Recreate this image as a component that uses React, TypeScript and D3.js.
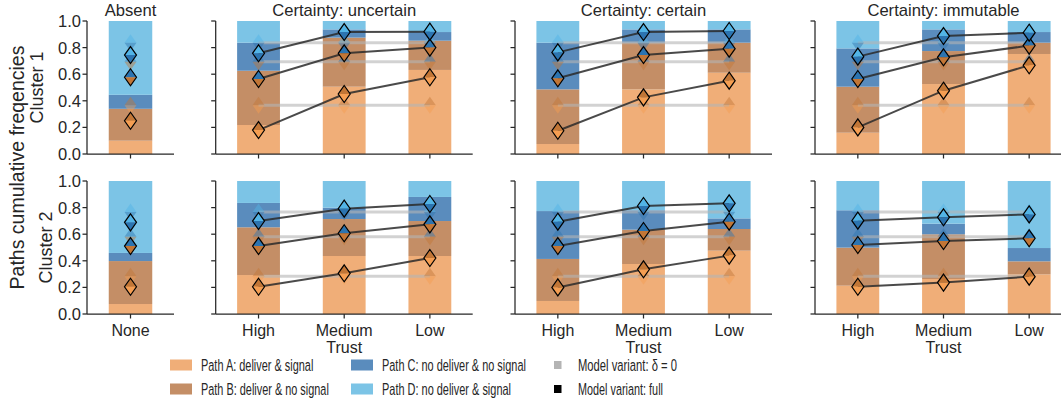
import React from 'react';
import * as d3 from 'd3';

// ---------- data ----------
const panelTitles = ['Absent', 'Certainty: uncertain', 'Certainty: certain', 'Certainty: immutable'];
const absentCats = ['None'];
const trustLevels = ['High', 'Medium', 'Low'];
const clusterLabels = ['Cluster 1', 'Cluster 2'];
const yTicks = [0, 0.2, 0.4, 0.6, 0.8, 1.0];
const pathLabels = [
  'Path A: deliver & signal',
  'Path B: deliver & no signal',
  'Path C: no deliver & no signal',
  'Path D: no deliver & signal',
];
const variantLabels = ['Model variant: δ = 0', 'Model variant: full'];

// cumulative bar tops (Path A top, Path B top, Path C top) per panel, cluster 1
const c1BarA = [[0.10], [0.218, 0.506, 0.632], [0.075, 0.486, 0.611], [0.16, 0.526, 0.752]];
const c1BarB = [[0.34], [0.626, 0.875, 0.852], [0.486, 0.837, 0.837], [0.506, 0.774, 0.837]];
const c1BarC = [[0.445], [0.837, 0.937, 0.917], [0.837, 0.937, 0.937], [0.794, 0.937, 0.917]];
// cluster 2
const c2BarA = [[0.075], [0.293, 0.436, 0.436], [0.098, 0.376, 0.476], [0.213, 0.263, 0.298]];
const c2BarB = [[0.398], [0.652, 0.714, 0.699], [0.414, 0.634, 0.639], [0.499, 0.599, 0.396]];
const c2BarC = [[0.459], [0.835, 0.799, 0.88], [0.774, 0.78, 0.719], [0.78, 0.679, 0.496]];

// full model cumulative predictions (A|B, B|C, C|D boundaries)
const c1FullAB = [[0.25], [0.18, 0.451, 0.577], [0.175, 0.426, 0.551], [0.2, 0.476, 0.667]];
const c1FullBC = [[0.577], [0.564, 0.757, 0.8], [0.569, 0.744, 0.792], [0.564, 0.727, 0.815]];
const c1FullCD = [[0.744], [0.757, 0.917, 0.92], [0.764, 0.917, 0.925], [0.732, 0.887, 0.912]];
const c2FullAB = [[0.205], [0.205, 0.306, 0.421], [0.2, 0.336, 0.439], [0.205, 0.236, 0.281]];
const c2FullBC = [[0.511], [0.511, 0.607, 0.674], [0.511, 0.624, 0.694], [0.519, 0.549, 0.569]];
const c2FullCD = [[0.689], [0.699, 0.792, 0.827], [0.694, 0.812, 0.832], [0.702, 0.727, 0.749]];

// delta = 0 model variant (constant across trust levels)
const c1Delta0 = [0.367, 0.693, 0.837];
const c2Delta0 = [0.284, 0.58, 0.766];

// ---------- styling ----------
const barColors = ['#f0ae78', '#c48e66', '#5a8cbd', '#7cc4e6'];
const markColors = ['#f59e52', '#c27636', '#2c74b0', '#52b4e6'];
const FONT = '"Liberation Sans", Arial, Helvetica, sans-serif';
const AX = '#262626';

const rows = [
  { top: 21, bottom: 154 },
  { top: 181, bottom: 314 },
];
const panels = [
  { left: 87, width: 87 },
  { left: 215.7, width: 257 },
  { left: 515, width: 257 },
  { left: 815, width: 257 },
];

const clusterData = [
  { bars: [c1BarA, c1BarB, c1BarC], full: [c1FullAB, c1FullBC, c1FullCD], delta0: c1Delta0 },
  { bars: [c2BarA, c2BarB, c2BarC], full: [c2FullAB, c2FullBC, c2FullCD], delta0: c2Delta0 },
];

const HW = 6;
const HH = 8.5;

let measureCtx: CanvasRenderingContext2D | null = null;
function textWidth(s: string, size: number): number {
  if (!measureCtx && typeof document !== 'undefined') {
    measureCtx = document.createElement('canvas').getContext('2d');
  }
  if (!measureCtx) return s.length * size * 0.5;
  measureCtx.font = `${size}px "Liberation Sans", Arial, sans-serif`;
  return measureCtx.measureText(s).width;
}

function Diamond({ x, y, lower, upper, full }: { x: number; y: number; lower: number; upper: number; full: boolean }) {
  return (
    <g transform={`translate(${x},${y})`} opacity={full ? 1 : 0.45}>
      <path d={`M${-HW},0L0,${-HH}L${HW},0Z`} fill={markColors[upper]} />
      <path d={`M${-HW},0L0,${HH}L${HW},0Z`} fill={markColors[lower]} />
      {full && (
        <path d={`M0,${-HH}L${HW},0L0,${HH}L${-HW},0Z`} fill="none" stroke="#000" strokeWidth={1.2} />
      )}
    </g>
  );
}

function NarrowText({ x, y, len, size, children }: { x: number; y: number; len: number; size: number; children: string }) {
  const natural = textWidth(children, size);
  const sx = natural > 0 ? len / natural : 1;
  return (
    <text
      transform={`translate(${x},${y}) scale(${sx},1)`}
      dy="0.36em"
      fontSize={size}
      fill={AX}
      fontFamily={FONT}
    >
      {children}
    </text>
  );
}

export default function App() {
  const W = 1061;
  const H = 400;

  const content: React.ReactNode[] = [];

  rows.forEach((row, ri) => {
    const y = d3.scaleLinear().domain([0, 1]).range([row.bottom, row.top]);
    const cd = clusterData[ri];
    panels.forEach((p, pi) => {
      const catKeys = pi === 0 ? absentCats : trustLevels;
      const x = d3
        .scaleBand<string>()
        .domain(catKeys)
        .range([p.left, p.left + p.width])
        .paddingInner(0.5)
        .paddingOuter(0.25);
      const bw = x.bandwidth();
      const key = `r${ri}p${pi}`;

      // bars
      catKeys.forEach((c, ci) => {
        const tops = [cd.bars[0][pi][ci], cd.bars[1][pi][ci], cd.bars[2][pi][ci], 1];
        let prev = 0;
        tops.forEach((t, k) => {
          content.push(
            <rect
              key={`${key}b${ci}${k}`}
              x={x(c)!}
              y={y(t)}
              width={bw}
              height={Math.max(0, y(prev) - y(t))}
              fill={barColors[k]}
            />
          );
          prev = t;
        });
      });

      const cx = (c: string) => x(c)! + bw / 2;
      const line = d3
        .line<number>()
        .x((_, i) => cx(catKeys[i]))
        .y((v) => y(v));

      // delta=0 variant
      cd.delta0.forEach((v, b) => {
        const vals = catKeys.map(() => v);
        if (catKeys.length > 1) {
          content.push(
            <path key={`${key}gl${b}`} d={line(vals)!} fill="none" stroke="#b4b4b4" strokeOpacity={0.6} strokeWidth={3} />
          );
        }
        vals.forEach((vv, ci) => {
          content.push(
            <Diamond key={`${key}gm${b}${ci}`} x={cx(catKeys[ci])} y={y(vv)} lower={b} upper={b + 1} full={false} />
          );
        });
      });

      // full variant
      cd.full.forEach((arr, b) => {
        const vals = arr[pi];
        if (catKeys.length > 1) {
          content.push(
            <path key={`${key}fl${b}`} d={line(vals)!} fill="none" stroke="#2a2a2a" strokeOpacity={0.85} strokeWidth={2} />
          );
        }
      });
      cd.full.forEach((arr, b) => {
        arr[pi].forEach((vv, ci) => {
          content.push(
            <Diamond key={`${key}fm${b}${ci}`} x={cx(catKeys[ci])} y={y(vv)} lower={b} upper={b + 1} full={true} />
          );
        });
      });

      // axes: left spine + ticks
      content.push(
        <line key={`${key}ys`} x1={p.left} x2={p.left} y1={row.top} y2={row.bottom} stroke={AX} strokeWidth={1.25} />
      );
      yTicks.forEach((t) => {
        content.push(
          <line key={`${key}yt${t}`} x1={p.left - 4.5} x2={p.left} y1={y(t)} y2={y(t)} stroke={AX} strokeWidth={1.25} />
        );
        if (pi === 0) {
          content.push(
            <text
              key={`${key}yl${t}`}
              x={p.left - 6}
              y={y(t)}
              dy="0.36em"
              textAnchor="end"
              fontSize={16.5}
              fill={AX}
              fontFamily={FONT}
            >
              {d3.format('.1f')(t)}
            </text>
          );
        }
      });
      // bottom spine + ticks
      content.push(
        <line key={`${key}xs`} x1={p.left} x2={p.left + p.width} y1={row.bottom} y2={row.bottom} stroke={AX} strokeWidth={1.25} />
      );
      catKeys.forEach((c) => {
        content.push(
          <line key={`${key}xt${c}`} x1={cx(c)} x2={cx(c)} y1={row.bottom} y2={row.bottom + 4.5} stroke={AX} strokeWidth={1.25} />
        );
        if (ri === 1) {
          content.push(
            <text key={`${key}xl${c}`} x={cx(c)} y={336} textAnchor="middle" fontSize={16} fill={AX} fontFamily={FONT}>
              {c}
            </text>
          );
        }
      });
      if (ri === 1 && pi > 0) {
        content.push(
          <text key={`${key}trust`} x={p.left + p.width / 2} y={353} textAnchor="middle" fontSize={16} fill={AX} fontFamily={FONT}>
            Trust
          </text>
        );
      }
      if (ri === 0) {
        content.push(
          <text key={`${key}title`} x={p.left + p.width / 2} y={16} textAnchor="middle" fontSize={16.6} fill={AX} fontFamily={FONT}>
            {panelTitles[pi]}
          </text>
        );
      }
    });
  });

  // y labels
  const clusterX = [37, 46];
  rows.forEach((row, ri) => {
    const cyy = (row.top + row.bottom) / 2;
    content.push(
      <text
        key={`cl${ri}`}
        transform={`translate(${clusterX[ri]},${cyy}) rotate(-90)`}
        textAnchor="middle"
        dy="0.36em"
        fontSize={18}
        fill={AX}
        fontFamily={FONT}
      >
        {clusterLabels[ri]}
      </text>
    );
  });
  content.push(
    <text
      key="ylab"
      transform={`translate(17,${(rows[0].top + rows[1].bottom) / 2}) rotate(-90)`}
      textAnchor="middle"
      dy="0.36em"
      fontSize={19.5}
      fill={AX}
      fontFamily={FONT}
    >
      Paths cumulative freqencies
    </text>
  );

  // legend
  const legRows = [365, 389];
  const pathPos = [
    { px: 170, tx: 201, r: 0, len: 113 },
    { px: 170, tx: 201, r: 1, len: 128 },
    { px: 351, tx: 382, r: 0, len: 144 },
    { px: 351, tx: 382, r: 1, len: 129 },
  ];
  pathLabels.forEach((lab, i) => {
    const pp = pathPos[i];
    const ly = legRows[pp.r];
    content.push(<rect key={`lp${i}`} x={pp.px} y={ly - 5.5} width={22} height={11} fill={barColors[i]} />);
    content.push(
      <NarrowText key={`lt${i}`} x={pp.tx} y={ly} len={pp.len} size={16.5}>
        {lab}
      </NarrowText>
    );
  });
  const varColors = ['#b4b4b4', '#000000'];
  const varLens = [99, 85];
  variantLabels.forEach((lab, i) => {
    const ly = legRows[i];
    content.push(<rect key={`vp${i}`} x={554} y={ly - 4} width={7.5} height={8} fill={varColors[i]} />);
    content.push(
      <NarrowText key={`vt${i}`} x={578} y={ly} len={varLens[i]} size={16.5}>
        {lab}
      </NarrowText>
    );
  });

  return (
    <svg width={W} height={H} style={{ position: 'absolute', left: 0, top: 0, background: '#fff' }}>
      <rect width={W} height={H} fill="#fff" />
      {content}
    </svg>
  );
}
